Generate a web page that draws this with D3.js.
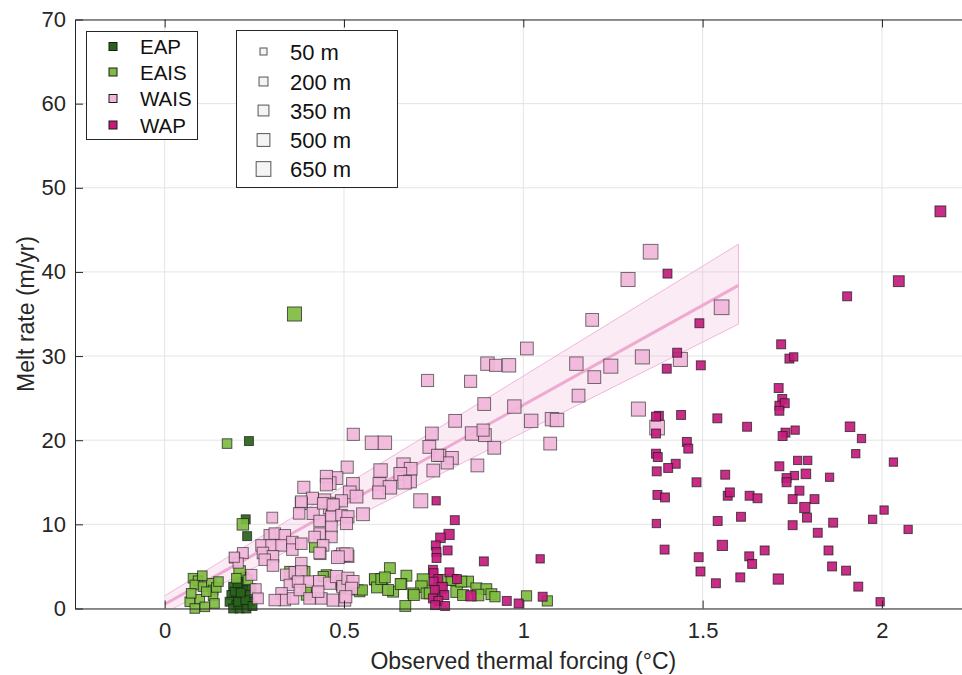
<!DOCTYPE html>
<html><head><meta charset="utf-8">
<script src="https://cdn.jsdelivr.net/npm/d3@7"></script>
<style>
html,body{margin:0;padding:0;background:#fff;}
svg{display:block;font-family:"Liberation Sans",Arial,Helvetica,sans-serif;}
</style></head>
<body>
<svg id="chart" width="962" height="675"></svg>
<script>
// ---------- data: [thermal forcing (°C), melt rate (m/yr), depth (m)] ----------
const eapPoints = [
[0.235,19.9,200],[0.226,10.6,200],[0.230,8.6,200],
[0.191,2.6,200],[0.209,2.4,200],[0.228,2.2,200],[0.242,2.4,200],[0.186,1.6,200],[0.200,1.2,200],
[0.218,1.4,200],[0.237,1.6,200],[0.181,0.8,200],[0.200,0.4,200],[0.218,0.6,200],[0.237,0.8,200],
[0.191,0.0,200],[0.209,0.0,200],[0.228,0.0,200],[0.205,0.8,200],[0.214,3.2,200],[0.225,1.0,200],
[0.195,2.0,200],[0.245,0.3,200],[0.212,1.9,200],[0.224,3.8,200],[0.203,3.0,200]
];
const eaisPoints = [
[0.362,35.0,600],[0.174,19.6,250],[0.218,10.0,400],[0.209,4.4,400],[0.200,3.6,250],[0.232,3.4,250],
[0.079,3.6,250],[0.093,3.3,250],[0.084,2.8,250],[0.107,2.6,250],[0.130,3.0,250],[0.135,2.2,250],
[0.135,1.5,250],[0.098,1.1,250],[0.070,0.8,250],[0.084,0.0,250],[0.112,0.2,250],[0.139,0.6,250],
[0.144,2.5,250],[0.116,2.0,250],[0.074,1.8,250],[0.150,3.2,250],[0.105,3.9,250],
[0.418,7.3,300],[0.451,4.0,300],[0.493,2.7,300],[0.507,2.2,300],[0.395,1.6,300],[0.395,2.2,300],
[0.442,3.8,300],[0.493,3.4,300],[0.539,2.2,300],[0.586,3.4,300],[0.349,4.4,300],[0.391,4.4,300],[0.544,2.0,300],
[0.628,4.8,350],[0.586,3.5,350],[0.607,3.5,350],[0.592,2.5,350],[0.674,3.9,350],[0.660,2.9,350],
[0.637,2.0,350],[0.623,2.2,350],[0.671,0.3,350],[0.721,3.4,450],[0.716,2.6,400],[0.693,1.8,350],
[0.730,1.8,350],[0.775,3.4,350],[0.804,3.4,350],[0.846,3.2,350],[0.814,2.0,400],[0.832,1.6,350],
[0.869,2.4,350],[0.897,2.3,350],[0.911,1.7,350],[0.921,1.4,300],[1.009,1.5,300],[1.067,0.9,300],
[0.758,2.2,400],[0.551,2.2,300],[0.604,3.5,350],[0.614,3.7,350],[0.658,2.9,350],[0.695,1.6,350],
[0.739,1.8,350],[0.767,2.4,400],[0.800,3.4,350],[0.827,3.2,350],[0.874,1.6,400]
];
const waisPoints = [
[1.355,42.4,650],[1.292,39.1,600],[1.553,35.8,650],[1.332,29.9,600],[1.438,29.6,600],[1.321,23.7,600],[1.373,21.5,650],
[1.192,34.3,500],[1.010,30.9,500],[0.900,29.1,550],[0.923,28.9,450],[0.960,28.9,550],[0.853,27.0,450],[0.733,27.1,450],
[1.148,29.1,550],[1.244,28.8,600],[1.198,27.5,500],[1.154,25.3,500],[0.891,24.3,500],[0.975,24.0,550],[0.810,22.3,500],
[1.022,22.3,550],[1.080,22.5,550],[1.094,22.4,550],[0.857,20.8,550],[0.893,20.6,500],[0.888,21.2,450],[0.919,19.1,500],
[1.075,19.6,500],[0.801,17.9,500],[0.767,18.2,450],[0.788,17.3,450],[0.872,17.0,500],[0.714,12.8,600],
[0.745,20.8,500],[0.526,20.7,450],[0.578,19.7,550],[0.614,19.7,550],[0.738,19.2,500],[0.761,18.2,450],[0.749,16.4,500],
[0.666,17.1,550],[0.686,16.6,500],[0.602,16.4,550],[0.657,16.0,500],[0.684,15.1,500],[0.669,15.0,550],[0.599,14.8,500],
[0.628,14.4,550],[0.598,13.8,500],[0.509,16.8,450],[0.479,15.5,500],[0.460,14.9,500],[0.525,14.8,500],[0.516,13.8,500],
[0.535,13.3,500],[0.469,12.5,450],[0.493,12.8,450],[0.460,12.0,450],[0.451,15.7,450],[0.388,14.4,450],[0.451,14.7,450],
[0.412,13.1,450],[0.381,12.5,450],[0.468,12.3,450],[0.446,12.9,450],
[0.300,10.8,350],[0.375,11.3,400],[0.414,11.3,450],[0.442,12.5,400],[0.470,12.3,450],[0.432,10.4,400],[0.465,10.9,400],
[0.493,11.1,400],[0.465,9.7,400],[0.381,12.7,400],[0.293,8.7,400],[0.307,8.9,400],[0.335,8.7,400],[0.270,7.5,400],
[0.298,7.5,400],[0.326,7.5,400],[0.356,7.9,400],[0.356,7.0,400],[0.381,7.7,400],[0.274,6.6,400],[0.302,6.2,400],
[0.279,5.8,400],[0.302,5.1,400],[0.218,6.6,350],[0.195,6.0,300],[0.205,5.4,300],[0.432,8.9,400],[0.418,8.5,400],
[0.465,8.5,400],[0.442,7.5,400],[0.488,6.2,400],[0.511,6.2,450],[0.434,6.5,400],[0.339,4.0,400],[0.363,4.3,400],
[0.381,5.4,400],[0.381,4.4,400],[0.400,3.2,400],[0.349,2.8,400],[0.372,3.2,400],[0.326,1.8,400],[0.335,1.0,400],
[0.307,1.0,400],[0.358,1.2,400],[0.377,2.2,400],[0.432,3.2,450],[0.460,3.0,450],[0.479,3.8,450],[0.437,1.2,400],
[0.470,1.0,450],[0.404,1.2,400],[0.428,2.0,400],[0.502,1.0,450],[0.497,2.6,450],[0.511,3.6,450],[0.254,2.3,350],
[0.260,1.2,350],[0.194,6.1,300],[0.242,4.0,350],[0.498,6.4,550],[0.507,6.4,550],[0.525,3.2,450],[0.521,2.4,450],
[0.505,1.4,450],[0.553,11.2,500],[0.511,10.9,450],[0.507,10.1,450],[0.483,6.1,500],[0.432,6.6,400]
];
const wapPoints = [
[2.163,47.2,350],[2.047,38.9,350],[1.903,37.1,200],[1.402,39.8,200],[1.491,33.9,200],[1.429,30.4,200],[1.400,28.5,200],
[1.495,28.9,200],[1.719,31.4,200],[1.742,29.7,200],[1.754,29.9,150],[1.712,26.2,200],[1.722,24.9,200],[1.714,24.1,200],
[1.729,24.4,200],[1.714,23.5,200],[1.378,22.9,200],[1.370,22.8,200],[1.440,23.0,200],[1.541,22.6,200],[1.624,21.6,200],
[1.911,21.6,250],[1.943,20.2,150],[1.370,20.8,200],[1.731,20.9,200],[1.723,20.5,200],[1.758,21.2,150],[1.456,19.8,200],
[1.460,19.0,200],[1.370,18.4,200],[1.375,18.0,200],[1.425,17.2,200],[1.404,16.7,200],[1.372,16.3,200],[1.563,15.9,200],
[1.483,15.0,200],[1.714,16.9,200],[1.765,17.6,150],[1.793,17.6,150],[1.927,18.4,150],[2.032,17.4,150],[1.788,16.0,250],
[1.756,15.8,150],[1.734,15.5,200],[1.734,15.0,200],[1.854,15.6,150],[1.770,14.0,200],[1.374,13.5,200],[1.395,13.2,200],
[1.570,13.4,200],[1.576,13.8,200],[1.631,13.4,200],[1.653,13.1,200],[1.751,13.0,200],[1.812,13.0,200],[1.785,12.0,300],
[1.791,10.8,200],[1.864,10.2,200],[1.751,9.9,200],[1.821,9.0,200],[1.542,10.4,200],[1.607,10.9,200],[1.394,7.0,200],
[1.555,7.5,300],[1.489,6.1,200],[1.630,6.2,200],[1.638,5.3,200],[1.673,6.9,200],[1.494,4.4,200],[1.537,3.0,200],
[1.605,3.7,200],[1.711,3.5,300],[1.851,6.9,200],[1.861,5.0,200],[1.900,4.5,200],[1.934,2.6,200],[1.995,0.8,150],
[1.974,10.6,150],[2.006,11.7,150],[2.073,9.4,150],[1.371,10.1,150],
[0.757,12.8,150],[0.809,10.5,200],[0.793,8.8,300],[0.769,8.4,250],[0.756,7.5,200],[0.789,6.9,200],[0.758,6.7,200],
[0.758,6.0,200],[0.890,5.6,200],[1.047,5.9,150],[0.748,4.6,200],[0.750,4.2,200],[0.794,4.3,200],[0.763,3.5,200],
[0.815,3.5,200],[0.750,3.2,200],[0.774,2.5,300],[0.753,2.2,200],[0.780,1.6,200],[0.854,1.5,300],[0.748,1.2,200],
[0.763,0.9,200],[0.754,0.4,200],[0.782,0.3,200],[0.954,0.9,200],[0.987,0.6,200],[1.054,1.4,200]
];
// WAIS linear fit and confidence band
const fitX = [0, 1.6];
const fitY = [0.5, 38.4];
const fitUpper = [1.5, 43.3];
const fitLower = [-0.5, 33.8];
// axes & legends
const xTicks = [0, 0.5, 1, 1.5, 2];
const xTickLabels = ["0", "0.5", "1", "1.5", "2"];
const yTicks = [0, 10, 20, 30, 40, 50, 60, 70];
const regionNames = ["EAP", "EAIS", "WAIS", "WAP"];
const regionColors = ["#276419", "#7fbc41", "#f1b6da", "#c51b7d"];
const depthLegend = [50, 200, 350, 500, 650];
const depthLegendLabels = ["50 m", "200 m", "350 m", "500 m", "650 m"];
const xLabel = "Observed thermal forcing (°C)";
const yLabel = "Melt rate (m/yr)";

// ---------- drawing ----------
const svg = d3.select("#chart");
const L = 75, R = 971.6, T = 19.5, B = 608.5;
const x = d3.scaleLinear().domain([-0.25, 2.25]).range([L, R]);
const y = d3.scaleLinear().domain([0, 70]).range([B, T]);
const side = d3.scaleLinear().domain([50, 650]).range([7, 14.7]);
const tickFont = 22, labelFont = 23, axisColor = "#262626";

// grid
const grid = svg.append("g");
grid.selectAll(".gx").data(xTicks).join("line")
  .attr("x1", d => x(d)).attr("x2", d => x(d)).attr("y1", T).attr("y2", B)
  .attr("stroke", "#e4e4e4").attr("stroke-width", 1);
grid.selectAll(".gy").data(yTicks).join("line")
  .attr("x1", L).attr("x2", R).attr("y1", d => y(d)).attr("y2", d => y(d))
  .attr("stroke", "#e4e4e4").attr("stroke-width", 1);

// fit band
const band = svg.append("g");
const bandPts = [[fitX[0], fitUpper[0]], [fitX[1], fitUpper[1]], [fitX[1], fitLower[1]], [fitX[0], fitLower[0]]];
svg.append("clipPath").attr("id", "plotclip").append("rect")
  .attr("x", L).attr("y", T).attr("width", R - L).attr("height", B - T);
band.attr("clip-path", "url(#plotclip)");
band.append("path").attr("d", d3.line().x(d => x(d[0])).y(d => y(d[1]))(bandPts) + "Z")
  .attr("fill", "#f1b6da").attr("fill-opacity", 0.28).attr("stroke", "none");
band.append("line").attr("x1", x(fitX[0])).attr("y1", y(fitUpper[0])).attr("x2", x(fitX[1])).attr("y2", y(fitUpper[1]))
  .attr("stroke", "#f1b6da").attr("stroke-width", 1);
band.append("line").attr("x1", x(fitX[0])).attr("y1", y(fitLower[0])).attr("x2", x(fitX[1])).attr("y2", y(fitLower[1]))
  .attr("stroke", "#f1b6da").attr("stroke-width", 1);
band.append("line").attr("x1", x(fitX[1])).attr("y1", y(fitUpper[1])).attr("x2", x(fitX[1])).attr("y2", y(fitLower[1]))
  .attr("stroke", "#f1b6da").attr("stroke-width", 1);
band.append("line").attr("x1", x(fitX[0])).attr("y1", y(fitY[0])).attr("x2", x(fitX[1])).attr("y2", y(fitY[1]))
  .attr("stroke", "#eeaad0").attr("stroke-width", 3);

// points
const groups = [eapPoints, eaisPoints, waisPoints, wapPoints];
groups.forEach((pts, i) => {
  svg.append("g").selectAll("rect").data(pts).join("rect")
    .attr("x", d => x(d[0]) - side(d[2]) / 2)
    .attr("y", d => y(d[1]) - side(d[2]) / 2)
    .attr("width", d => side(d[2])).attr("height", d => side(d[2]))
    .attr("fill", regionColors[i]).attr("fill-opacity", 0.92)
    .attr("stroke", "#1a1a1a").attr("stroke-opacity", i === 2 ? 0.6 : 0.72).attr("stroke-width", 1);
});

// axes
const xAxis = d3.axisBottom(x).tickValues(xTicks).tickFormat((d, i) => xTickLabels[i])
  .tickSizeInner(-8).tickSizeOuter(0).tickPadding(14);
const gx = svg.append("g").attr("transform", `translate(0,${B})`).call(xAxis);
const yAxis = d3.axisLeft(y).tickValues(yTicks).tickSizeInner(-8).tickSizeOuter(0).tickPadding(9);
const gy = svg.append("g").attr("transform", `translate(${L},0)`).call(yAxis);
const xTop = d3.axisTop(x).tickValues(xTicks).tickFormat("").tickSizeInner(-8).tickSizeOuter(0);
const gt = svg.append("g").attr("transform", `translate(0,${T})`).call(xTop);
[gx, gy, gt].forEach(g => {
  g.select(".domain").attr("stroke", axisColor).attr("stroke-width", 1);
  g.selectAll(".tick line").attr("stroke", axisColor).attr("stroke-width", 1);
  g.selectAll(".tick text").attr("fill", axisColor).style("font-size", tickFont + "px")
    .style("font-family", '"Liberation Sans",Arial,Helvetica,sans-serif');
});

// axis labels
svg.append("text").attr("x", (L + R) / 2).attr("y", 669).attr("text-anchor", "middle")
  .attr("fill", axisColor).style("font-size", labelFont + "px").text(xLabel);
svg.append("text").attr("transform", `translate(34,${(T + B) / 2}) rotate(-90)`).attr("text-anchor", "middle")
  .attr("fill", axisColor).style("font-size", labelFont + "px").text(yLabel);

// legend 1: regions
const lg1 = svg.append("g");
lg1.append("rect").attr("x", 86.5).attr("y", 31.5).attr("width", 111).attr("height", 108)
  .attr("fill", "#fff").attr("stroke", axisColor).attr("stroke-width", 1);
const lg1Y = [46.5, 72, 98.5, 125];
regionNames.forEach((n, i) => {
  lg1.append("rect").attr("x", 113 - 4).attr("y", lg1Y[i] - 4).attr("width", 8).attr("height", 8)
    .attr("fill", regionColors[i]).attr("stroke", "#1a1a1a").attr("stroke-width", 1);
  lg1.append("text").attr("x", 140).attr("y", lg1Y[i] + 7.5).attr("fill", "#111")
    .style("font-size", "20.5px").text(n);
});

// legend 2: depth
const lg2 = svg.append("g");
lg2.append("rect").attr("x", 236.5).attr("y", 30.5).attr("width", 161).attr("height", 157)
  .attr("fill", "#fff").attr("stroke", axisColor).attr("stroke-width", 1);
const lg2Y = [51.5, 81.5, 110.5, 140, 169];
depthLegend.forEach((d, i) => {
  const s = side(d);
  lg2.append("rect").attr("x", 263.5 - s / 2).attr("y", lg2Y[i] - s / 2).attr("width", s).attr("height", s)
    .attr("fill", "#f4f4f4").attr("stroke", "#555").attr("stroke-width", 1);
  lg2.append("text").attr("x", 290).attr("y", lg2Y[i] + 8).attr("fill", "#111")
    .style("font-size", "22px").text(depthLegendLabels[i]);
});
</script>
</body></html>
